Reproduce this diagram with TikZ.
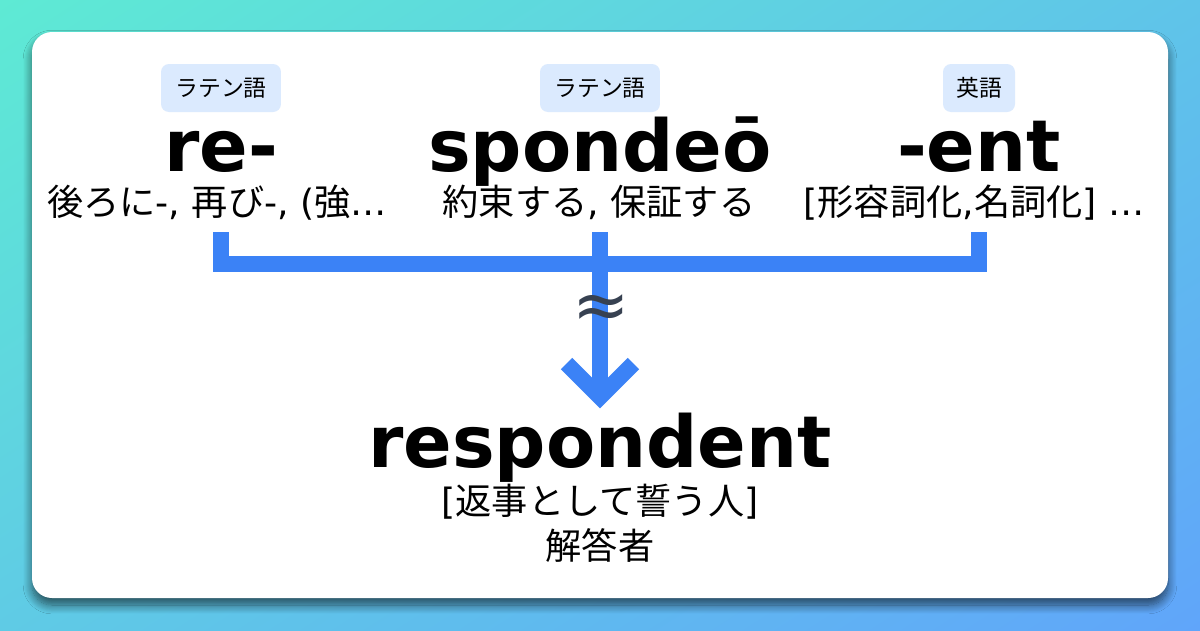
\documentclass[tikz,border=0pt]{standalone}
\usepackage{fontspec}
\setmainfont{DejaVu Sans}
\newfontfamily\jpfont{Noto Sans CJK JP}
\usepackage{xcolor}
\definecolor{etyTeal}{HTML}{5EEAD4}
\definecolor{etyCiel}{HTML}{60A5FA}
\definecolor{etyBleu}{HTML}{3B82F6}
\definecolor{etyBleuPale}{HTML}{DBEAFE}
\definecolor{etyArdoise}{HTML}{374151}
\usepackage{tikz}
\usetikzlibrary{shadings, shadows.blur}
\newcommand{\lat}[1]{{\normalfont #1}}
\tikzset{
  %% ── Fond ─────────────────────────────────────────────────────────────
  %% The card carries everything; the gradient is only a frame round it.
  carte/.style          = {fill=white, rounded corners=0.4cm,
                           blur shadow={shadow xshift=0pt, shadow yshift=-4pt,
                                        shadow blur radius=5pt,
                                        shadow blur steps=12, shadow opacity=60}},
  %%
  %% ── Texte ────────────────────────────────────────────────────────────
  %% A language tag is small and pale; the word it labels is the subject.
  etiquetteLangue/.style = {fill=etyBleuPale, rounded corners=0.16cm,
                           minimum width=2.4cm, minimum height=0.96cm,
                           inner sep=0pt, text=black,
                           font=\jpfont\fontsize{13pt}{15pt}\selectfont},
  motRacine/.style      = {anchor=base, inner sep=0pt, text=black,
                           font=\fontsize{40.8pt}{48pt}\selectfont\bfseries},
  sensMot/.style        = {anchor=base, inner sep=0pt, text=black,
                           font=\jpfont\fontsize{20.6pt}{24pt}\selectfont},
  signeApprox/.style    = {inner sep=0pt, text=etyArdoise,
                           font=\fontsize{39pt}{44pt}\selectfont},
  %%
  %% ── Traits ───────────────────────────────────────────────────────────
  trait/.style          = {draw=etyBleu, line width=0.32cm, line join=miter},
}

\begin{document}
\begin{tikzpicture}[x=0.02cm, y=-0.02cm]

\useasboundingbox (0,0) rectangle (1200,630);
\shade[upper left=etyTeal, lower right=etyCiel, upper right=etyTeal!45!etyCiel,
       lower left=etyTeal!55!etyCiel] (0,0) rectangle (1200,630);
\path[carte] (32,32) rectangle (1168,598);

\node[etiquetteLangue] (langueRe) at (221,88) {ラテン語};
\node[etiquetteLangue] (langueSpondeo) at (600,88) {ラテン語};
\node[etiquetteLangue, minimum width=1.44cm] (langueEnt) at (979,88) {英語};

\node[motRacine] (motRe) at (221,171) {re-};
\node[motRacine] (motSpondeo) at (600,171) {spondeō};
\node[motRacine] (motEnt) at (979,171) {-ent};

\node[sensMot] (sensRe) at (217,215) {後ろに\lat{-, }再び\lat{-, (}強\lat{…}};
\node[sensMot] (sensSpondeo) at (599,215) {約束する\lat{, }保証する};
\node[sensMot] (sensEnt) at (974,215) {\lat{[}形容詞化\lat{,}名詞化\lat{] …}};

\coordinate (piedRe) at (221,232);
\coordinate (piedSpondeo) at (600,232);
\coordinate (piedEnt) at (979,232);
\coordinate (barre) at (600,264);
\coordinate (pointe) at (600,397);

\draw[trait] (piedRe) |- (barre) -| (piedEnt);
\draw[trait] (piedSpondeo) -- (pointe);
\draw[trait] (pointe) ++(-33.5,-33.5) -- (pointe) -- ++(33.5,-33.5);
\node[signeApprox] (approx) at (601,312) {≈};

\node[motRacine] (motRespondent) at (600,467) {respondent};
\node[sensMot] (sensRespondent) at (600,514) {\lat{[}返事として誓う人\lat{]}};
\node[sensMot] (traduction) at (600,559) {解答者};

\end{tikzpicture}
\end{document}
